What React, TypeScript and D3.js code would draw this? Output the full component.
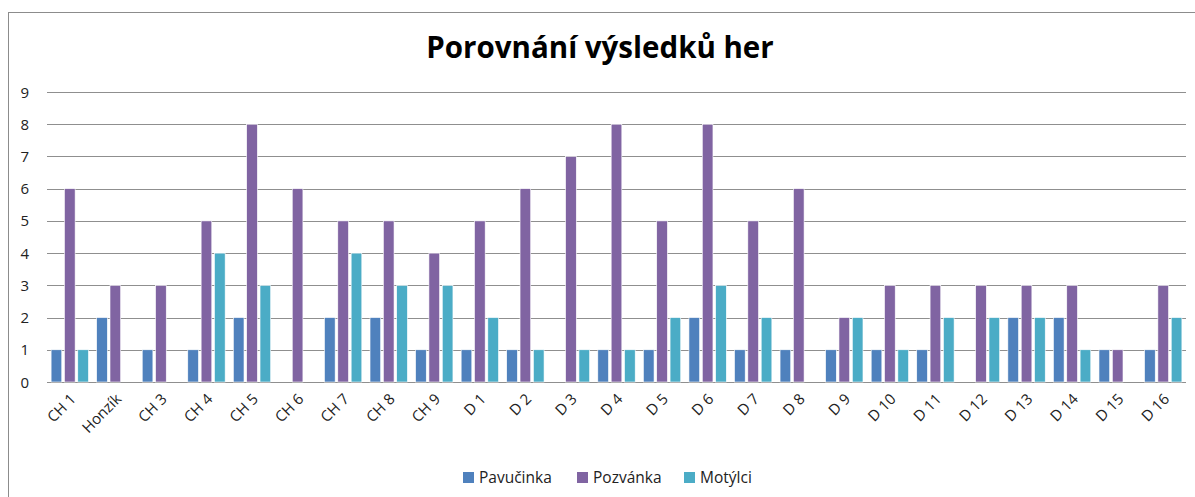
import * as d3 from "d3";
import { useEffect, useRef } from "react";

const categories = ["CH 1", "Honzík", "CH 3", "CH 4", "CH 5", "CH 6", "CH 7", "CH 8", "CH 9", "D 1", "D 2", "D 3", "D 4", "D 5", "D 6", "D 7", "D 8", "D 9", "D 10", "D 11", "D 12", "D 13", "D 14", "D 15", "D 16"];
const seriesNames = ["Pavučinka", "Pozvánka", "Motýlci"];
const pavucinka = [1, 2, 1, 1, 2, 0, 2, 2, 1, 1, 1, 0, 1, 1, 2, 1, 1, 1, 1, 1, 0, 2, 2, 1, 1];
const pozvanka = [6, 3, 3, 5, 8, 6, 5, 5, 4, 5, 6, 7, 8, 5, 8, 5, 6, 2, 3, 3, 3, 3, 3, 1, 3];
const motylci = [1, 0, 0, 4, 3, 0, 4, 3, 3, 2, 1, 1, 1, 2, 3, 2, 0, 2, 1, 2, 2, 2, 1, 0, 2];
const yTicks = [0, 1, 2, 3, 4, 5, 6, 7, 8, 9];
const colors = ["#4F81BD", "#8064A2", "#4BACC6"];

const App = () => {
  const ref = useRef<SVGSVGElement>(null);

  useEffect(() => {
    const W = 1195, H = 497;
    const margin = { top: 92, right: 9, bottom: 115, left: 47 };
    const width = W - margin.left - margin.right;
    const height = H - margin.top - margin.bottom;
    const font = "'Open Sans', 'Noto Sans', sans-serif";

    const root = d3.select(ref.current);
    root.selectAll("*").remove();

    // outer chart border
    root.append("rect")
      .attr("x", 8.5).attr("y", 12.5)
      .attr("width", 1195).attr("height", 500)
      .attr("fill", "white").attr("stroke", "#8c8c8c");

    root.append("text")
      .attr("x", 600).attr("y", 58)
      .attr("text-anchor", "middle")
      .style("font-family", font).style("font-size", "29.5px").style("font-weight", "bold")
      .text("Porovnání výsledků her");

    const svg = root.append("g").attr("transform", `translate(${margin.left},${margin.top})`);

    const x0 = d3.scaleBand().domain(categories).range([0, width]).paddingInner(0.18).paddingOuter(0.09);
    const x1 = d3.scaleBand().domain(seriesNames).range([0, x0.bandwidth()]).paddingInner(0.2);
    const y = d3.scaleLinear().domain([0, 9]).range([height, 0]);

    // gridlines
    svg.selectAll("line.grid")
      .data(yTicks)
      .join("line")
      .attr("x1", 0).attr("x2", width)
      .attr("y1", (d) => Math.round(y(d)) + 0.5).attr("y2", (d) => Math.round(y(d)) + 0.5)
      .attr("stroke", "#8f8f8f").attr("stroke-width", 1);

    svg.selectAll("text.ytick")
      .data(yTicks)
      .join("text")
      .attr("x", -18).attr("y", (d) => y(d) + 5.5)
      .attr("text-anchor", "end")
      .style("font-family", font).style("font-size", "15px").attr("fill", "#222")
      .text((d) => d);

    const data = [pavucinka, pozvanka, motylci];
    const groups = svg.selectAll("g.cat")
      .data(categories)
      .join("g")
      .attr("transform", (d) => `translate(${x0(d)},0)`);

    groups.selectAll("rect")
      .data((_, i) => seriesNames.map((s, j) => ({ s, v: data[j][i], c: colors[j] })))
      .join("rect")
      .attr("x", (d) => x1(d.s)!)
      .attr("y", (d) => y(d.v))
      .attr("width", x1.bandwidth())
      .attr("height", (d) => height - y(d.v))
      .attr("fill", (d) => d.c)
      .attr("stroke", "white").attr("stroke-width", 0.6);

    // x labels
    svg.selectAll("text.xtick")
      .data(categories)
      .join("text")
      .attr("transform", (d) => `translate(${x0(d)! + x0.bandwidth() / 2 + 7},${height + 18}) rotate(-45)`)
      .attr("text-anchor", "end")
      .style("font-family", font).style("font-size", "15px").attr("fill", "#222")
      .text((d) => d);

    // legend
    const legendX = [463, 577, 684];
    const legend = root.selectAll("g.legend")
      .data(seriesNames)
      .join("g")
      .attr("transform", (_, i) => `translate(${legendX[i]},472)`);
    legend.append("rect").attr("width", 11).attr("height", 11).attr("fill", (_, i) => colors[i]);
    legend.append("text")
      .attr("x", 16).attr("y", 11)
      .style("font-family", font).style("font-size", "15.5px").attr("fill", "#222")
      .text((d) => d);
  }, []);

  return <svg ref={ref} width={1195} height={497} style={{ position: "absolute", left: 0, top: 0 }} />;
};

export default App;
